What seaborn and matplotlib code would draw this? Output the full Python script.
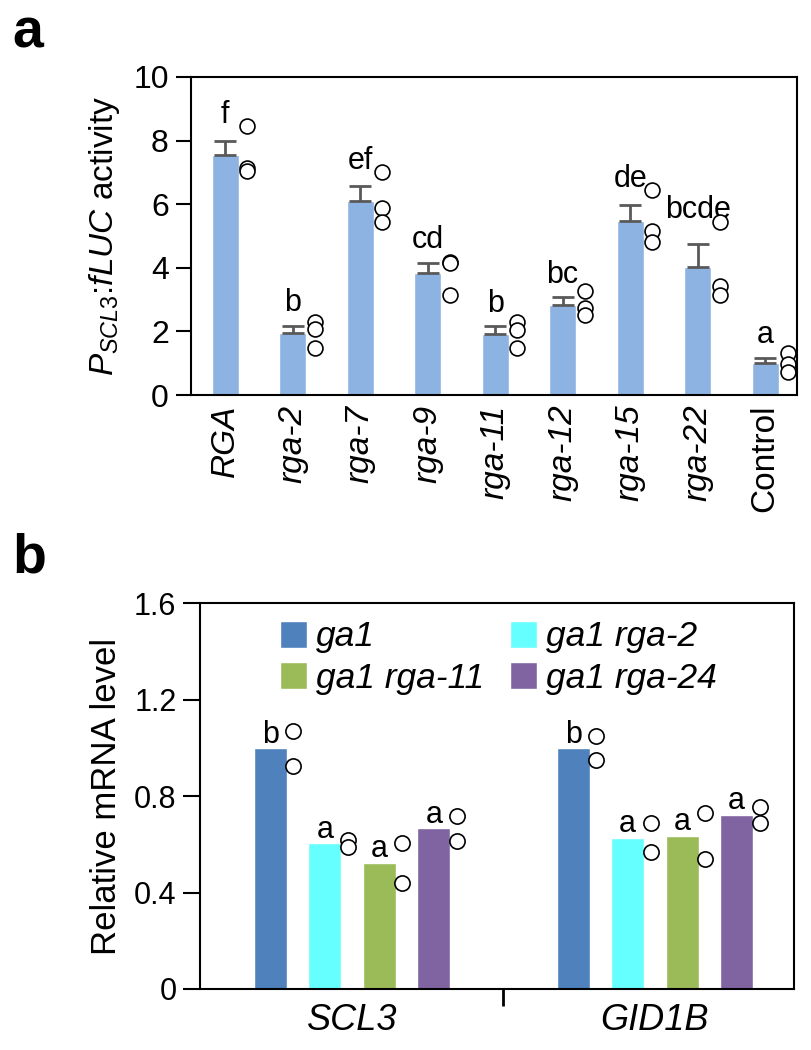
import numpy as np
import pandas as pd
import matplotlib
matplotlib.use("Agg")
import matplotlib.pyplot as plt
import seaborn as sns
from matplotlib.patches import Patch

# panel a: P_SCL3:fLUC activity, three replicates per construct
constructs = ["RGA", "rga-2", "rga-7", "rga-9", "rga-11", "rga-12", "rga-15", "rga-22", "Control"]
luc_reps = [
    [8.45, 7.15, 7.05],
    [2.28, 2.07, 1.47],
    [7.00, 5.88, 5.45],
    [4.18, 4.15, 3.16],
    [2.29, 2.03, 1.47],
    [3.27, 2.75, 2.50],
    [6.45, 5.15, 4.80],
    [5.45, 3.42, 3.16],
    [1.31, 0.99, 0.73],
]
luc_letters = ["f", "b", "ef", "cd", "b", "bc", "de", "bcde", "a"]

# panel b: relative mRNA level, two replicates per line
genes = ["SCL3", "GID1B"]
lines = ["ga1", "ga1 rga-2", "ga1 rga-11", "ga1 rga-24"]
scl3_reps = [[1.07, 0.925], [0.618, 0.59], [0.605, 0.44], [0.718, 0.614]]
gid1b_reps = [[1.047, 0.95], [0.687, 0.566], [0.73, 0.538], [0.756, 0.69]]
mrna_letters = ["b", "a", "a", "a"]

line_colors = ["#4F81BD", "#66FFFF", "#9BBB59", "#8064A2"]
bar_a_color = "#8DB3E2"

sns.set_style("white")
plt.rcParams["font.family"] = ["Liberation Sans", "DejaVu Sans"]
plt.rcParams["mathtext.fontset"] = "custom"
plt.rcParams["mathtext.rm"] = "Liberation Sans"
plt.rcParams["mathtext.it"] = "Liberation Sans:italic"
for key in ["text.color", "axes.labelcolor", "xtick.color", "ytick.color", "axes.edgecolor"]:
    plt.rcParams[key] = "black"

df_a = pd.DataFrame(
    [(c, v) for c, reps in zip(constructs, luc_reps) for v in reps],
    columns=["construct", "value"],
)
df_b = pd.DataFrame(
    [(g, l, v) for g, gene_reps in zip(genes, [scl3_reps, gid1b_reps])
     for l, reps in zip(lines, gene_reps) for v in reps],
    columns=["gene", "line", "value"],
)

fig = plt.figure(figsize=(8.12, 10.5), dpi=100)
ax_a = fig.add_axes([0.2352, 0.6238, 0.7463, 0.3029])
ax_b = fig.add_axes([0.2463, 0.0581, 0.7315, 0.3676])

# ---- panel a ----
sns.barplot(data=df_a, x="construct", y="value", order=constructs, errorbar=None,
            color=bar_a_color, width=0.4, saturation=1, ax=ax_a)
stats = df_a.groupby("construct")["value"].agg(["mean", "sem"]).reindex(constructs)
xs = np.arange(len(constructs))
ax_a.errorbar(xs, stats["mean"], yerr=[np.zeros(len(xs)), stats["sem"]], fmt="none",
              ecolor="#595959", elinewidth=2, capsize=8, capthick=2, zorder=3)
for i, reps in enumerate(luc_reps):
    ax_a.scatter(np.full(len(reps), i + 0.33), reps, s=115, facecolor="white",
                 edgecolor="black", linewidth=1.2, zorder=4)
    top = max(stats["mean"].iloc[i] + stats["sem"].iloc[i] + 0.45, max(reps) + 0.1)
    ax_a.text(i, top, luc_letters[i], ha="center", va="baseline", fontsize=22)

ax_a.set_xlim(-0.504, 8.47)
ax_a.set_ylim(0, 10)
ax_a.set_yticks([0, 2, 4, 6, 8, 10])
ax_a.set_xlabel("")
ax_a.set_ylabel(r"$\mathit{P}_{\mathit{SCL3}}$:$\mathit{fLUC}$ activity", fontsize=24, labelpad=8)
ax_a.tick_params(axis="y", direction="out", length=11, width=1.5, labelsize=23, pad=5, left=True)
ax_a.tick_params(axis="x", length=0, labelsize=24, pad=7)
ax_a.set_xticks(xs)
ax_a.set_xticklabels(constructs, rotation=90)
for lab in ax_a.get_xticklabels():
    if lab.get_text() != "Control":
        lab.set_style("italic")
for sp in ax_a.spines.values():
    sp.set_visible(True)
    sp.set_linewidth(1.5)

# ---- panel b ----
sns.barplot(data=df_b, x="gene", y="value", hue="line", order=genes, hue_order=lines,
            palette=line_colors, width=0.72, gap=0.4, errorbar=None, saturation=1,
            legend=False, ax=ax_b)
slot = 0.72 / len(lines)
for gi, gene_reps in enumerate([scl3_reps, gid1b_reps]):
    for li, reps in enumerate(gene_reps):
        xc = gi + (li - 1.5) * slot
        ax_b.scatter(np.full(len(reps), xc + 0.076), reps, s=120, facecolor="white",
                     edgecolor="black", linewidth=1.2, zorder=4)
        ax_b.annotate(mrna_letters[li], (xc, np.mean(reps)), xytext=(0, 4),
                      textcoords="offset points", ha="center", va="baseline", fontsize=22)

ax_b.set_xlim(-0.502, 1.459)
ax_b.set_ylim(0, 1.6)
ax_b.set_yticks([0, 0.4, 0.8, 1.2, 1.6])
ax_b.set_yticklabels(["0", "0.4", "0.8", "1.2", "1.6"])
ax_b.set_xticks([0, 1])
ax_b.set_xticklabels(genes, style="italic")
ax_b.set_xticks([0.5], minor=True)
ax_b.set_xlabel("")
ax_b.set_ylabel("Relative mRNA level", fontsize=25, labelpad=8)
ax_b.tick_params(axis="y", direction="out", length=12, width=1.5, labelsize=22, pad=5, left=True)
ax_b.tick_params(axis="x", which="major", length=0, labelsize=26, pad=10)
ax_b.tick_params(axis="x", which="minor", direction="out", length=12, width=2, bottom=True)
for sp in ax_b.spines.values():
    sp.set_visible(True)
    sp.set_linewidth(1.5)

handles = [Patch(facecolor=line_colors[i], label=lines[i]) for i in [0, 2, 1, 3]]
ax_b.legend(handles=handles, ncol=2, loc="upper left", bbox_to_anchor=(0.135, 0.955),
            frameon=False, prop={"size": 25.5, "style": "italic"}, handlelength=0.75,
            handleheight=0.8, handletextpad=0.25, columnspacing=0.75, labelspacing=0.25,
            borderpad=0, borderaxespad=0)

fig.text(0.015, 0.955, "a", fontsize=40, fontweight="bold", va="baseline")
fig.text(0.015, 0.4552, "b", fontsize=40, fontweight="bold", va="baseline")

fig.savefig("out.png", dpi=100)
